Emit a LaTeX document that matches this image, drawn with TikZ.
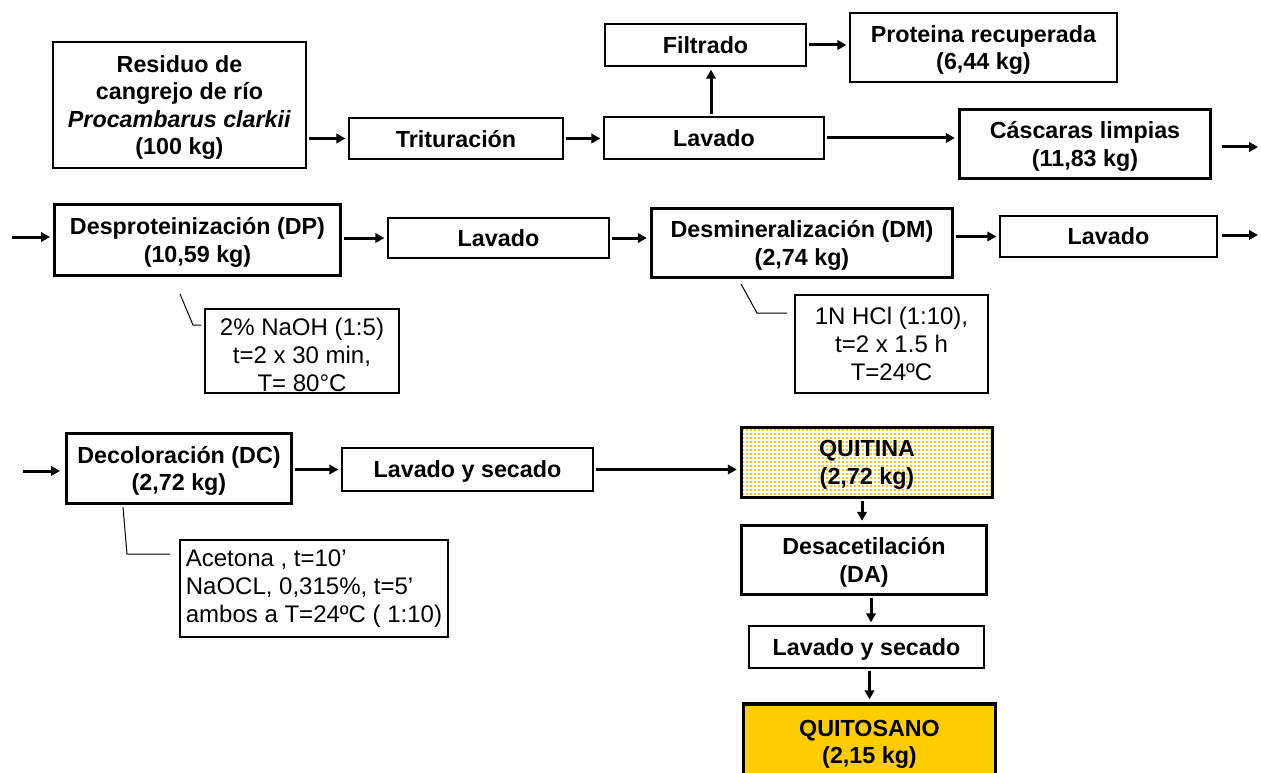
\documentclass[tikz,border=0pt]{standalone}
\usepackage{fontspec}
\setmainfont{Liberation Sans}
\usetikzlibrary{arrows.meta}
\pgfdeclarelayer{edgelayer}
\pgfdeclarelayer{nodelayer}
\pgfsetlayers{edgelayer,nodelayer,main}
\definecolor{gold}{RGB}{255,204,0}
\definecolor{dotgold}{RGB}{255,196,0}
\tikzstyle{box}=[rectangle, draw=black, line width=1.3pt, inner sep=0pt, align=center, text depth=-2pt, font=\fontsize{23.3}{27.5}\selectfont\bfseries]
\tikzstyle{heavy}=[box, line width=3.4pt]
\tikzstyle{note}=[rectangle, draw=black, line width=1.3pt, inner sep=0pt, font=\fontsize{24}{28}\selectfont]
\tikzstyle{flow}=[draw=black, line width=3pt, shorten <=2pt, shorten >=3pt, -{Triangle[length=9pt,width=9.5pt]}]
\tikzstyle{leader}=[draw=black, line width=1pt]

\begin{document}
\begin{tikzpicture}[x=1pt,y=-1pt]
				\useasboundingbox (0,0) rectangle (1261,773);
				\begin{pgfonlayer}{nodelayer}
					\node [style=box, minimum width=253, minimum height=126] (residuo) at (179.5,105) {Residuo de\\cangrejo de río\\\textit{Procambarus clarkii}\\(100 kg)};
					\node [style=box, minimum width=214, minimum height=41] (trit) at (456,138.5) {Trituración};
					\node [style=box, minimum width=220, minimum height=42] (lav1) at (714,138) {Lavado};
					\node [style=box, minimum width=201, minimum height=42] (filt) at (705.5,45) {Filtrado};
					\node [style=box, minimum width=267, minimum height=69] (prot) at (983.5,47.5) {Proteina recuperada\\(6,44 kg)};
					\node [style=heavy, minimum width=251, minimum height=69] (casc) at (1085,144) {Cáscaras limpias\\(11,83 kg)};
					\node [style=heavy, minimum width=286, minimum height=71] (dp) at (197.5,240) {Desproteinización (DP)\\(10,59 kg)};
					\node [style=box, minimum width=221, minimum height=40] (lav2) at (498.5,238) {Lavado};
					\node [style=heavy, minimum width=301, minimum height=69] (dm) at (802,243) {Desmineralización (DM)\\(2,74 kg)};
					\node [style=box, minimum width=217, minimum height=41] (lav3) at (1108.5,236.5) {Lavado};
					\node [style=note, minimum width=194, minimum height=84, label={[align=center, font=\fontsize{24}{28}\selectfont, yshift=-3.5pt]center:2\% NaOH (1:5)\\t=2 x 30 min,\\T= 80°C}] (naoh) at (302,351) {};
					\node [style=note, align=center, minimum width=193, minimum height=98] (hcl) at (891.5,344) {1N HCl (1:10),\\t=2 x 1.5 h\\T=24ºC};
					\node [style=heavy, minimum width=225, minimum height=70] (dc) at (179,468.5) {Decoloración (DC)\\(2,72 kg)};
					\node [style=box, minimum width=251, minimum height=43] (sec1) at (467.5,469.5) {Lavado y secado};
					\node [style=note, align=left, minimum width=268, minimum height=97] (acet) at (314,588.5) {Acetona , t=10’\\NaOCL, 0,315\%, t=5’\\ambos a T=24ºC ( 1:10)};
					\node [style=heavy, minimum width=251, minimum height=70] (quitina) at (867,462.5) {QUITINA\\(2,72 kg)};
					\node [style=heavy, minimum width=245, minimum height=69] (da) at (864,560) {Desacetilación\\(DA)};
					\node [style=box, minimum width=235, minimum height=42] (sec2) at (866.5,647) {Lavado y secado};
					\node [style=heavy, fill=gold, minimum width=252, minimum height=76] (quitosano) at (869.5,742) {QUITOSANO\\(2,15 kg)};
				\end{pgfonlayer}
				\begin{pgfonlayer}{edgelayer}
					% dotted fill of the chitin box
					\begin{scope}
						\clip (quitina.south west) rectangle (quitina.north east);
						\foreach \i in {0,...,63}
							\foreach \j in {0,...,18}
								\fill [dotgold] (741.5+4*\i,428.5+4*\j) rectangle ++(2,2);
					\end{scope}
					\coordinate (out1a) at (1222,147);
					\coordinate (out1b) at (1258,147);
					\coordinate (in2a) at (12,237);
					\coordinate (in2b) at (50,237);
					\coordinate (out2a) at (1222,235);
					\coordinate (out2b) at (1258,235);
					\coordinate (in3a) at (23,471);
					\coordinate (in3b) at (60,471);
					\coordinate (dpnote) at (180,294);
					\coordinate (dmnote) at (741,284);
					\coordinate (dcnote) at (123,507);
					\draw [style=flow] (residuo.east |- trit) to (trit.west);
					\draw [style=flow] (trit.east) to (trit.east -| lav1.west);
					\draw [style=flow] ([xshift=-3pt]lav1.north) to ([xshift=-3pt]lav1.north |- filt.south);
					\draw [style=flow] (filt.east) to (filt.east -| prot.west);
					\draw [style=flow] (lav1.east) to (lav1.east -| casc.west);
					\draw [style=flow, shorten <=0pt, shorten >=0pt] (out1a) to (out1b);
					\draw [style=flow, shorten <=0pt, shorten >=0pt] (in2a) to (in2b);
					\draw [style=flow] (dp.east |- lav2) to (lav2.west);
					\draw [style=flow] (lav2.east) to (lav2.east -| dm.west);
					\draw [style=flow] (dm.east |- lav3) to (lav3.west);
					\draw [style=flow, shorten <=0pt, shorten >=0pt] (out2a) to (out2b);
					\draw [style=flow, shorten <=0pt, shorten >=0pt] (in3a) to (in3b);
					\draw [style=flow] (dc.east |- sec1) to (sec1.west);
					\draw [style=flow] (sec1.east) to (sec1.east -| quitina.west);
					\draw [style=flow] ([xshift=-2pt]da.north |- quitina.south) to ([xshift=-2pt]da.north);
					\draw [style=flow] ([xshift=4.5pt]sec2.north |- da.south) to ([xshift=4.5pt]sec2.north);
					\draw [style=flow] (sec2.south -| quitosano.north) to (quitosano.north);
					\draw [style=leader] (dpnote) -- ++(13,31) -- ++(8,0);
					\draw [style=leader] (dmnote) -- ++(16,29) -- ++(30,0);
					\draw [style=leader] (dcnote) -- ++(4,47) -- ++(43,0);
				\end{pgfonlayer}
			\end{tikzpicture}
\end{document}
